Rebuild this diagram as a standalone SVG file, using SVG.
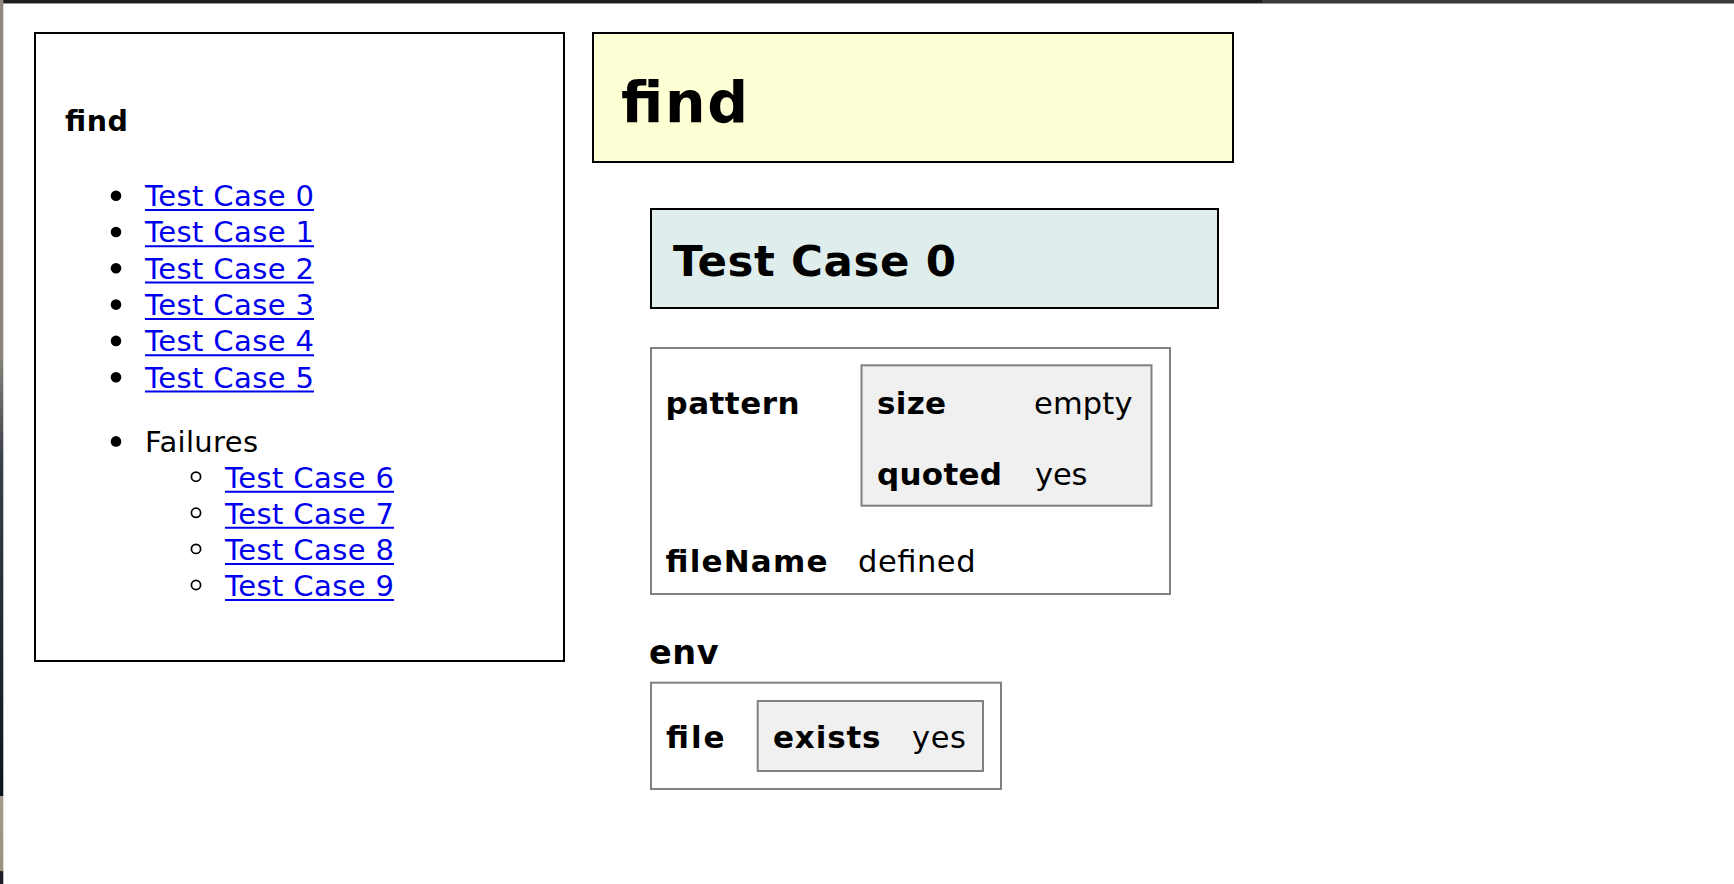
<svg xmlns="http://www.w3.org/2000/svg" width="1734" height="884" viewBox="0 0 1734 884">
<defs>
<linearGradient id="edge" x1="0" y1="0" x2="0" y2="1">
<stop offset="0" stop-color="#8e8981"/>
<stop offset="0.4" stop-color="#8a857d"/>
<stop offset="0.52" stop-color="#3a3f48"/>
<stop offset="0.9" stop-color="#0f141c"/>
<stop offset="0.901" stop-color="#a39b8a"/>
<stop offset="0.985" stop-color="#9a927f"/>
<stop offset="0.986" stop-color="#1a1d22"/>
<stop offset="1" stop-color="#1a1d22"/>
</linearGradient>
</defs>
<style>
text{font-family:"DejaVu Sans","Verdana","Liberation Sans",sans-serif;fill:#000}
.b{font-weight:bold}
.lnk{fill:#0000ee;font-size:29px}
.ul{stroke:#0000ee;stroke-width:2}
.reg{font-size:29px}
.tb{font-size:31px;font-weight:bold}
.tr{font-size:30.5px}
.blk{stroke:#000;stroke-width:2}
.gry{stroke:#808080;stroke-width:2}
</style>
<rect x="0" y="0" width="1734" height="884" fill="#fff"/>
<rect x="0" y="0" width="1262" height="3" fill="#1e1e1e"/>
<rect x="1262" y="0" width="472" height="3" fill="#3a3a3a"/>
<rect x="0" y="3" width="1734" height="1" fill="#9a9a9a"/>
<rect x="0" y="0" width="3.3" height="884" fill="url(#edge)"/>

<g id="nav">
<rect class="blk" x="35" y="33" width="529" height="628" fill="#fff"/>
<text class="b" x="65" y="131" font-size="28.5" textLength="63" lengthAdjust="spacing">find</text>
<g id="bullets" fill="#000">
<circle cx="116" cy="195.7" r="5.3"/>
<circle cx="116" cy="232" r="5.3"/>
<circle cx="116" cy="268.3" r="5.3"/>
<circle cx="116" cy="304.6" r="5.3"/>
<circle cx="116" cy="340.9" r="5.3"/>
<circle cx="116" cy="377.2" r="5.3"/>
<circle cx="116" cy="441.4" r="5.3"/>
</g>
<g id="subbullets" fill="none" stroke="#000" stroke-width="1.7">
<circle cx="196" cy="476.7" r="4.6"/>
<circle cx="196" cy="512.8" r="4.6"/>
<circle cx="196" cy="548.9" r="4.6"/>
<circle cx="196" cy="585" r="4.6"/>
</g>
<text class="lnk" x="145" y="206" textLength="169" lengthAdjust="spacing">Test Case 0</text>
<text class="lnk" x="145" y="242.3" textLength="169" lengthAdjust="spacing">Test Case 1</text>
<text class="lnk" x="145" y="278.6" textLength="169" lengthAdjust="spacing">Test Case 2</text>
<text class="lnk" x="145" y="314.9" textLength="169" lengthAdjust="spacing">Test Case 3</text>
<text class="lnk" x="145" y="351.2" textLength="169" lengthAdjust="spacing">Test Case 4</text>
<text class="lnk" x="145" y="387.5" textLength="169" lengthAdjust="spacing">Test Case 5</text>
<text class="reg" x="145" y="451.7" textLength="113" lengthAdjust="spacing">Failures</text>
<text class="lnk" x="225" y="487.7" textLength="169" lengthAdjust="spacing">Test Case 6</text>
<text class="lnk" x="225" y="523.8" textLength="169" lengthAdjust="spacing">Test Case 7</text>
<text class="lnk" x="225" y="559.9" textLength="169" lengthAdjust="spacing">Test Case 8</text>
<text class="lnk" x="225" y="596" textLength="169" lengthAdjust="spacing">Test Case 9</text>
<g id="underlines" class="ul">
<line x1="145" y1="210" x2="314" y2="210"/>
<line x1="145" y1="246.3" x2="314" y2="246.3"/>
<line x1="145" y1="282.6" x2="314" y2="282.6"/>
<line x1="145" y1="318.9" x2="314" y2="318.9"/>
<line x1="145" y1="355.2" x2="314" y2="355.2"/>
<line x1="145" y1="391.5" x2="314" y2="391.5"/>
<line x1="225" y1="491.7" x2="394" y2="491.7"/>
<line x1="225" y1="527.8" x2="394" y2="527.8"/>
<line x1="225" y1="563.9" x2="394" y2="563.9"/>
<line x1="225" y1="600" x2="394" y2="600"/>
</g>
</g>

<g id="title">
<rect class="blk" x="593" y="33" width="640" height="129" fill="#ffffd5"/>
<text class="b" x="621" y="121.7" font-size="57" textLength="127" lengthAdjust="spacing">find</text>
</g>

<g id="testcase">
<rect class="blk" x="651" y="209" width="567" height="99" fill="#dfeded"/>
<text class="b" x="673" y="276" font-size="43.5" textLength="283" lengthAdjust="spacing">Test Case 0</text>
</g>

<g id="args">
<rect class="gry" x="651" y="348" width="519" height="246" fill="#fff"/>
<text class="tb" x="665.5" y="414" textLength="134" lengthAdjust="spacing">pattern</text>
<g id="pattern-vals">
<rect class="gry" x="861.5" y="365.3" width="290" height="140.4" fill="#f0f0f0"/>
<text class="tb" x="877" y="414" textLength="69" lengthAdjust="spacing">size</text>
<text class="tr" x="1034" y="414" textLength="98.5" lengthAdjust="spacing">empty</text>
<text class="tb" x="877" y="485" textLength="125" lengthAdjust="spacing">quoted</text>
<text class="tr" x="1035" y="485" textLength="52.5" lengthAdjust="spacing">yes</text>
</g>
<text class="tb" x="665.5" y="571.7" textLength="162" lengthAdjust="spacing">fileName</text>
<text class="tr" x="858" y="571.7" textLength="117.5" lengthAdjust="spacing">defined</text>
</g>

<g id="env">
<text class="b" x="649" y="664.3" font-size="33.5" textLength="69.5" lengthAdjust="spacing">env</text>
<rect class="gry" x="651" y="682.7" width="350" height="106.3" fill="#fff"/>
<text class="tb" x="666" y="748.3" textLength="58.5" lengthAdjust="spacing">file</text>
<g id="file-vals">
<rect class="gry" x="757.7" y="701" width="225.3" height="70" fill="#f0f0f0"/>
<text class="tb" x="773" y="748.3" textLength="107.5" lengthAdjust="spacing">exists</text>
<text class="tr" x="912" y="748.3" textLength="54" lengthAdjust="spacing">yes</text>
</g>
</g>
</svg>
